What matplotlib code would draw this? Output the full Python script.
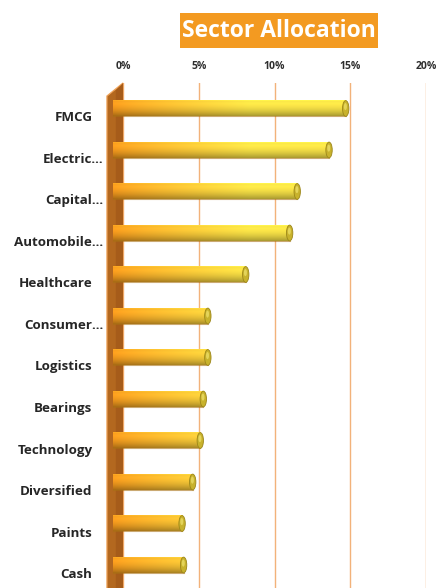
import numpy as np
import matplotlib
matplotlib.use("Agg")
import matplotlib.pyplot as plt
from matplotlib.patches import Polygon, Ellipse, Rectangle
from matplotlib.colors import to_rgb
from matplotlib.transforms import ScaledTranslation

categories = ["FMCG", "Electric...", "Capital...", "Automobile...", "Healthcare",
              "Consumer...", "Logistics", "Bearings", "Technology", "Diversified",
              "Paints", "Cash"]
values = [14.7, 13.6, 11.5, 11.0, 8.1, 5.6, 5.6, 5.3, 5.1, 4.6, 3.9, 4.0]
xticks = [0, 5, 10, 15, 20]
xticklabels = ["0%", "5%", "10%", "15%", "20%"]
title = "Sector Allocation"

W, H = 437, 588
fig = plt.figure(figsize=(W / 100, H / 100), dpi=100)
fig.patch.set_facecolor("white")
ax = fig.add_axes([123 / W, 0.0, (426 - 123) / W, 1 - 83 / H])
ax.set_facecolor("white")

n = len(categories)
ypos = np.arange(n)
ylim = (n - 1 + 0.554, -0.614)

# gridlines (back wall)
for xv in xticks:
    ax.axvline(xv, color="#F2B27A", lw=1.0, zorder=1)

# side wall
depth = 1.06
wall = Polygon([(-depth, -0.30), (0, -0.614), (0, n + 0.5), (-depth, n + 0.5)],
               closed=True, facecolor="#B3681F", edgecolor="#EFA35A", lw=0.9,
               clip_on=False, zorder=2)
ax.add_patch(wall)
inner = Polygon([(-depth * 0.45, -0.43), (0, -0.614), (0, n + 0.5), (-depth * 0.45, n + 0.5)],
                closed=True, facecolor="#A65C1A", edgecolor="none",
                clip_on=False, zorder=2)
ax.add_patch(inner)

# bars with gradient
orange = np.array(to_rgb("#F2971C"))
yellow = np.array(to_rgb("#F3DE45"))
bh = 0.38
bar_start = -0.66
nx, ny = 200, 30
t = np.linspace(0, 1, nx)[None, :, None]
s = np.linspace(0, 1, ny)[:, None, None]  # 0 top -> 1 bottom
shade = 1.08 - 0.38 * s ** 2
shade = np.where(s < 0.12, 1.0 + 0.12 * (0.12 - s) / 0.12, shade)
for yi, v in zip(ypos, values):
    frac = np.clip(t * (v + 0.66) / 9.0, 0, 1) ** 0.8
    base = orange * (1 - frac) + yellow * frac
    img = np.clip(base * shade, 0, 1)
    ax.imshow(img, extent=[bar_start, v, yi + bh / 2, yi - bh / 2],
              aspect="auto", interpolation="bilinear", zorder=3, clip_on=False)
    ax.plot([bar_start, v], [yi + bh / 2, yi + bh / 2], color="#A87014", lw=0.8,
            zorder=3.5, clip_on=False, alpha=0.6)
    cap = Ellipse((v, yi), width=0.42, height=bh, facecolor="#C8B22C",
                  edgecolor="#9C8619", lw=0.6, zorder=4, clip_on=False)
    ax.add_patch(cap)
    hl = Ellipse((v - 0.02, yi - bh * 0.12), width=0.2, height=bh * 0.45,
                 facecolor="#E4D45A", edgecolor="none", zorder=4.5, clip_on=False)
    ax.add_patch(hl)

ax.set_xlim(0, 20)
ax.set_ylim(*ylim)

for sp in ax.spines.values():
    sp.set_visible(False)

ax.set_xticks(xticks)
ax.set_xticklabels(xticklabels)
ax.xaxis.tick_top()
ax.tick_params(axis="x", length=0, pad=8, labelsize=7.5, labelcolor="#2E2E2E")
for lab in ax.get_xticklabels():
    lab.set_fontweight("bold")
    lab.set_family("Open Sans")

ax.set_yticks(ypos)
ax.set_yticklabels(categories)
ax.tick_params(axis="y", length=0, pad=22, labelsize=9.6, labelcolor="#262626")
for lab in ax.get_yticklabels():
    dx = 11 if lab.get_text().endswith("...") else 0
    shift = ScaledTranslation(dx / 100, -8 / 100, fig.dpi_scale_trans)
    lab.set_fontweight("bold")
    lab.set_family("Open Sans")
    lab.set_transform(lab.get_transform() + shift)

# title box
fig.add_artist(Rectangle((180 / W, 1 - 48 / H), 198 / W, 35 / H,
                         transform=fig.transFigure, facecolor="#F39A21",
                         edgecolor="none", zorder=1))
fig.text(279 / W, 1 - 31 / H, title, ha="center", va="center", color="white",
         fontsize=16.5, fontweight="bold", family="Open Sans", zorder=2)

fig.savefig("out.png", dpi=100, facecolor="white")
